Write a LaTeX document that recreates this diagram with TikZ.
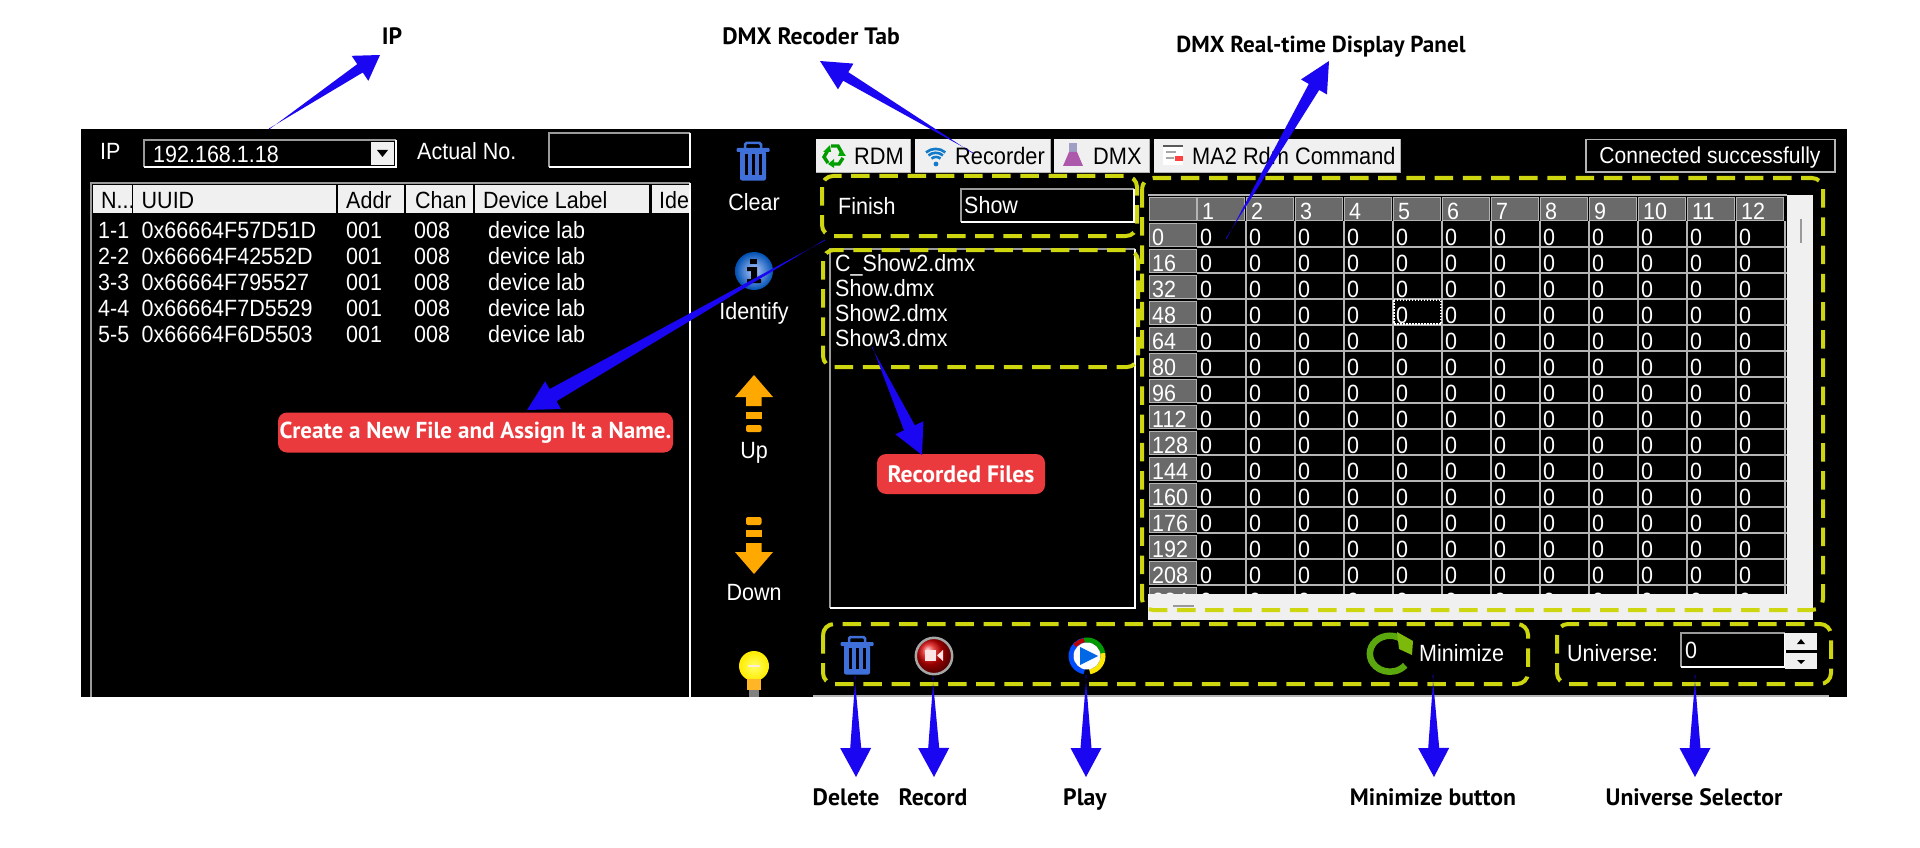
\documentclass[tikz,border=0pt]{standalone}
\usepackage{fontspec}
\setmainfont{Liberation Sans}[FakeStretch=0.915]
\newfontfamily\labfont{PT Sans}
\usetikzlibrary{calc,arrows.meta}
\definecolor{ablue}{HTML}{1A06F0}
\definecolor{ylw}{HTML}{CDD60F}
\definecolor{redlab}{HTML}{EA3A3E}
\definecolor{tabbg}{HTML}{F0F0F0}
\definecolor{orng}{HTML}{FFA800}
\definecolor{trashb}{HTML}{3F6FD8}
\definecolor{cellg}{HTML}{6A6A6A}
\definecolor{gridl}{HTML}{B4B4B4}
\definecolor{edgeg}{HTML}{9A9A9A}
\definecolor{swoosh}{HTML}{5BA80E}
\newcommand{\UI}{\fontsize{23.5}{26}\selectfont}
\newcommand{\TB}{\fontsize{23.8}{26}\selectfont}
\newcommand{\LB}{\labfont\bfseries\fontsize{23.7}{26}\selectfont}
\newcommand{\LBs}{\labfont\bfseries\fontsize{23.1}{26}\selectfont}
% wedge: tail, tip, tail half width, neck half width, head length, head half width
\newcommand{\WedgeArrow}[6]{%
  \coordinate (wh) at ($(#2)!#5!(#1)$);
  \fill[ablue] ($(#1)!#3!90:(#2)$) -- ($(wh)!#4!-90:(#2)$) -- ($(wh)!#6!-90:(#2)$) -- (#2)
     -- ($(wh)!#6!90:(#2)$) -- ($(wh)!#4!90:(#2)$) -- ($(#1)!#3!-90:(#2)$) -- cycle;}
\newcommand{\TrashIcon}[2]{%
  \begin{scope}[shift={(#1,#2)}]
    \draw[trashb,line width=2.5pt,rounded corners=1.5pt] (-8,6) -- (-8,1) -- (8,1) -- (8,6);
    \fill[trashb,rounded corners=1pt] (-16.5,6) rectangle (16.5,10);
    \fill[trashb,rounded corners=2pt] (-13,9) rectangle (13,38.5);
    \foreach \sx in {-8.5,-1.5,5.5} \fill[black] (\sx,12) rectangle ++(3,21);
  \end{scope}}
\newcommand{\Sunken}[4]{%
  \draw[edgeg,line width=1.6pt] (#1,#4) -- (#1,#2) -- (#3,#2);
  \draw[white,line width=1.6pt] (#3,#2) -- (#3,#4) -- (#1,#4);}
\tikzset{
  ui/.style={font=\UI,text=white,anchor=base west,inner sep=0pt},
  uic/.style={font=\UI,text=white,anchor=base,inner sep=0pt},
  hdr/.style={font=\UI,text=black,anchor=base west,inner sep=0pt},
  tabtext/.style={font=\TB,text=black,anchor=base west,inner sep=0pt},
  yellowbox/.style={draw=ylw,line width=4pt,rounded corners=11pt,dash pattern=on 18.5pt off 9.7pt},
  cellbox/.style={fill=cellg,draw=gridl,line width=1.4pt},
  lab/.style={font=\LB,text=black,anchor=base,inner sep=0pt},
  redbox/.style={fill=redlab,rounded corners=9pt,inner sep=0pt,font=\LB,text=white}
}
\begin{document}
\begin{tikzpicture}[x=1pt,y=-1pt]
\useasboundingbox (0,0) rectangle (1920,848);
\fill[white] (0,0) rectangle (1920,848);
% main panel
\fill[black] (81,129) rectangle (1847,697);
\draw[gridl,line width=1.4pt] (813,696) -- (1829,696);
% top-left row
\node[ui] (iplab) at (100,160) {IP};
\Sunken{144}{140}{396}{167}
\node[ui] (ipval) at (153,163) {192.168.1.18};
\fill[tabbg] (371,142) rectangle (394,165);
\fill[black] (377,150) -- (388,150) -- (382.5,157) -- cycle;
\node[ui] (actual) at (417,160) {Actual No.};
\Sunken{549}{133}{690}{167}
% device table
\draw[edgeg,line width=1.6pt] (91,697) -- (91,183) -- (690,183);
\draw[white,line width=1.6pt] (690,183) -- (690,697);
\foreach \xa/\xb in {92.5/131.5,133/336,338/404,406/472.5,474.5/649,652/689}
  \fill[tabbg] (\xa,185) rectangle (\xb,213);
\node[hdr] (h1) at (101,208) {N...};
\node[hdr] (h2) at (141.5,208) {UUID};
\node[hdr] (h3) at (346,208) {Addr};
\node[hdr] (h4) at (415,208) {Chan};
\node[hdr] (h5) at (483,208) {Device Label};
\node[hdr] (h6) at (659,208) {Ide};
\foreach \n/\u/\yy in {1-1/0x66664F57D51D/238,2-2/0x66664F42552D/264,3-3/0x66664F795527/290,4-4/0x66664F7D5529/316,5-5/0x66664F6D5503/342}{
  \node[ui] (no\yy) at (98,\yy) {\n};
  \node[ui] (uu\yy) at (141.5,\yy) {\u};
  \node[ui] (ad\yy) at (346,\yy) {001};
  \node[ui] (ch\yy) at (414,\yy) {008};
  \node[ui] (dl\yy) at (488,\yy) {device lab};
}
% middle column
\TrashIcon{753}{142}
\node[uic] (clear) at (754,210) {Clear};
\shade[inner color=white!10!cyan!30!blue!30,outer color=blue!55!cyan!70!black] (754,271) circle (19);
\fill[black] (750,259) rectangle (757,264);
\fill[black] (747,267) -- (757,267) -- (757,279) -- (761,279) -- (761,283) -- (747,283) -- (747,279) -- (751,279) -- (751,271) -- (747,271) -- cycle;
\node[uic] (identify) at (754,319) {Identify};
% up arrow
\fill[orng] (754,375) -- (773,397) -- (761.5,397) -- (761.5,406) -- (746,406) -- (746,397) -- (735,397) -- cycle;
\fill[orng] (746,412) rectangle (761.5,419);
\fill[orng,rounded corners=2pt] (746,425) rectangle (761.5,432);
\node[uic] (up) at (754,458) {Up};
% down arrow
\fill[orng,rounded corners=2pt] (746,517) rectangle (761.5,525);
\fill[orng] (746,530) rectangle (761.5,537);
\fill[orng] (754,574) -- (773,552) -- (761.5,552) -- (761.5,543) -- (746,543) -- (746,552) -- (735,552) -- cycle;
\node[uic] (down) at (754,600) {Down};
% bulb
\begin{scope}
  \clip (730,645) rectangle (780,696);
  \shade[inner color=yellow!60!white,outer color=yellow!85!orange] (754,666) circle (15);
  \fill[white!85!orange] (748,664.5) rectangle (760,667);
  \fill[orng!85!white] (747,679) rectangle (761,690);
  \fill[gray] (749,690) rectangle (759,697);
\end{scope}
% tabs
\fill[tabbg] (816,139) rectangle (910,173);
\fill[tabbg] (915,139) rectangle (1050,173);
\fill[tabbg] (1054,139) rectangle (1149,173);
\fill[tabbg] (1154,139) rectangle (1400,173);
\draw[gridl,line width=1pt] (816,173) -- (910,173) -- (910,139);
\draw[gridl,line width=1pt] (915,173) -- (1050,173) -- (1050,139);
\draw[gridl,line width=1pt] (1054,173) -- (1149,173) -- (1149,139);
\draw[gridl,line width=1pt] (1154,173) -- (1400,173) -- (1400,139);
% recycle icon
\begin{scope}[shift={(834,155)}]
  \draw[green!60!black,line width=3.4pt] (-3,-9) -- (4,-9) -- (8,-2);
  \draw[green!60!black,line width=3.4pt] (9,3) -- (5,9) -- (-3,9);
  \draw[green!60!black,line width=3.4pt] (-6,8) -- (-10,2) -- (-6,-5);
  \fill[green!65!black] (7,-6) -- (12,1) -- (4,1) -- cycle;
  \fill[green!65!black] (0,4) -- (0,13) -- (-6,9) -- cycle;
  \fill[green!65!black] (-11,-3) -- (-3,-3) -- (-4,-10) -- cycle;
\end{scope}
\node[tabtext] (tab1) at (854,164.5) {RDM};
% wifi icon
\begin{scope}[shift={(936,164)},cyan!60!blue,line width=2.6pt]
  \fill (0,0) circle (2.4);
  \draw (-4.5,-5.4) arc[start angle=-130,end angle=-50,radius=7];
  \draw (-7.5,-8.6) arc[start angle=-130,end angle=-50,radius=11.2];
  \draw (-10,-11.6) arc[start angle=-130,end angle=-50,radius=15];
\end{scope}
\node[tabtext] (tab2) at (955,164.5) {Recorder};
% flask icon
\fill[blue!25!gray!60] (1069,143) rectangle (1077,152);
\fill[violet!65!white] (1063,166) -- (1069,152) -- (1077,152) -- (1083,166) -- cycle;
\node[tabtext] (tab3) at (1093,164.5) {DMX};
% MA2 icon
\fill[white] (1163,145) rectangle (1183,165);
\fill[black!65] (1163,145) rectangle (1183,147.5);
\fill[gray!70] (1166,151) rectangle (1176,153);
\fill[gray!70] (1166,157) rectangle (1174,159);
\fill[red!75!white] (1175,156) rectangle (1183,161);
\node[tabtext] (tab4) at (1192,164.5) {MA2 Rdm Command};
% status
\draw[gridl,line width=1.4pt] (1586,139.5) rectangle (1835,172);
\node[uic,font=\fontsize{23}{26}\selectfont] (status) at (1710,164) {Connected successfully};
% recorder area
\node[ui] (finish) at (838,214) {Finish};
\Sunken{961}{189}{1134}{222}
\node[ui] (showv) at (964,213) {Show};
\Sunken{830}{249}{1135}{608}
\node[ui] (f1) at (835,271) {C\_Show2.dmx};
\node[ui] (f2) at (835,296) {Show.dmx};
\node[ui] (f3) at (835,321) {Show2.dmx};
\node[ui] (f4) at (835,346) {Show3.dmx};
% grid
\fill[black] (1148,195) rectangle (1787,594);
\draw[gridl,line width=1.4pt] (1148,195) -- (1787,195);
\node[cellbox,minimum width=47pt,minimum height=23pt,inner sep=0pt,anchor=north west] (corner) at (1149,197) {};
\foreach \c in {1,...,12}{
  \pgfmathsetmacro{\cx}{1197+49*(\c-1)}
  \node[cellbox,minimum width=47pt,minimum height=23pt,inner sep=0pt,anchor=north west] (hc\c) at (\cx,197) {};
  \node[ui] (ht\c) at ({\cx+5},219) {\c};
}
\begin{scope}
  \clip (1148,195) rectangle (1787,594);
  \foreach \c in {0,...,11}{
    \pgfmathsetmacro{\cx}{1246+49*\c}
    \draw[gridl,line width=1.4pt] (\cx,221) -- (\cx,594);
  }
  \foreach \r [count=\ri from 0] in {0,16,...,224}{
    \pgfmathsetmacro{\ry}{223+26*\ri}
    \pgfmathsetmacro{\rb}{245+26*\ri}
    \pgfmathsetmacro{\rl}{247+26*\ri}
    \draw[gridl,line width=1.4pt] (1197,\rl) -- (1787,\rl);
    \node[cellbox,minimum width=47pt,minimum height=23pt,inner sep=0pt,anchor=north west] (rc\ri) at (1149,\ry) {};
    \node[ui] (rt\ri) at (1152,\rb) {\r};
    \foreach \c in {1,...,12}{
      \pgfmathsetmacro{\cx}{1200+49*(\c-1)}
      \node[ui] (v\ri-\c) at (\cx,\rb) {0};
    }
  }
\end{scope}
\draw[white,line width=1.2pt,dash pattern=on 1.5pt off 1.5pt] (1394,300) rectangle (1441,324);
% scrollbars
\fill[tabbg] (1787,195) rectangle (1813,620);
\fill[tabbg] (1148,594) rectangle (1813,620);
\fill[gray!80] (1799.5,219) rectangle (1802,243);
\fill[gray!80] (1173,605) rectangle (1194,607);
% bottom row
\TrashIcon{857}{636}
\shade[ball color=red!85!black] (934,656) circle (17);
\draw[gray!70!white,line width=2.5pt] (934,656) circle (18.2);
\fill[white!90!red] (925,650) rectangle (936,661);
\fill[white!90!red] (937,655.5) -- (943,650) -- (943,661) -- cycle;
% play icon
\begin{scope}
  \draw[blue!70!cyan,line width=5pt] (1087,656) ++(100:16) arc[start angle=100,end angle=260,radius=16];
  \draw[green!60!black,line width=5pt] (1087,656) ++(-100:16) arc[start angle=-100,end angle=-10,radius=16];
  \draw[yellow!90!orange,line width=5pt] (1087,656) ++(-10:16) arc[start angle=-10,end angle=80,radius=16];
  \draw[red!75!black,line width=4pt] (1087,656) ++(-100:16) arc[start angle=-100,end angle=-140,radius=16];
  \fill[white] (1087,656) circle (13.5);
  \fill[blue!55!cyan!90!black] (1080,647) -- (1098,656) -- (1080,665) -- cycle;
\end{scope}
% minimize icon
\draw[swoosh,line width=6.5pt] (1404,641) arc[start angle=-45,end angle=-320,x radius=20,y radius=18];
\fill[swoosh!80!yellow] (1397,632) -- (1413,641) -- (1412,655) -- (1399,649) -- cycle;
\node[ui] (minim) at (1419,661) {Minimize};
\node[ui] (univ) at (1567,661) {Universe:};
\Sunken{1681}{633}{1785}{667}
\node[ui] (uval) at (1685,658) {0};
\fill[tabbg] (1785,633) rectangle (1817,650);
\fill[tabbg] (1785,653) rectangle (1817,669);
\fill[black] (1801,639) -- (1797,644) -- (1805,644) -- cycle;
\fill[black] (1801,664) -- (1797,660) -- (1805,660) -- cycle;
% yellow dashed boxes
\draw[yellowbox] (822,176) rectangle (1137,236);
\draw[yellowbox] (823,250) rectangle (1138,367);
\draw[yellowbox] (1142,178) rectangle (1823,610);
\draw[yellowbox] (823,624) rectangle (1528,684);
\draw[yellowbox] (1557,624) rectangle (1831,684);
% labels
\node[lab] (lIP) at (392,45) {IP};
\node[lab] (lTab) at (811,45) {DMX Recoder Tab};
\node[lab,font=\LBs] (lPanel) at (1321,53) {DMX Real-time Display Panel};
\node[lab] (lDel) at (846,805) {Delete};
\node[lab] (lRec) at (933,805) {Record};
\node[lab] (lPlay) at (1085,805) {Play};
\node[lab] (lMin) at (1433,805) {Minimize button};
\node[lab] (lUni) at (1694,805) {Universe Selector};
\node[redbox,font=\LBs,minimum width=395pt,minimum height=40pt] (lNew) at (475.5,432.5) {Create a New File and Assign It a Name.};
\node[redbox,minimum width=168pt,minimum height=40pt] (lFiles) at (961,474) {Recorded Files};
% connector ends
\coordinate (tIP) at (269,129);
\coordinate (pIP) at (380,55);
\coordinate (tTab) at (973,153);
\coordinate (pTab) at (820,61);
\coordinate (tPanel) at (1226,239);
\coordinate (pPanel) at (1329,61);
\coordinate (tNew) at (825,240);
\coordinate (pNew) at (527,410);
\coordinate (tFiles) at (872,347);
\coordinate (pFiles) at (922,455);
\coordinate (tDel) at (855,676);
\coordinate (pDel) at (856,777);
\coordinate (tRec) at (933,677);
\coordinate (pRec) at (934,777);
\coordinate (tPlay) at (1086,675);
\coordinate (pPlay) at (1086,777);
\coordinate (tMin) at (1433,675);
\coordinate (pMin) at (1434,777);
\coordinate (tUni) at (1695,675);
\coordinate (pUni) at (1695,777);
% connectors
\WedgeArrow{tIP}{pIP}{0.4pt}{5pt}{24pt}{15pt}
\WedgeArrow{tTab}{pTab}{0.4pt}{5pt}{30pt}{15pt}
\WedgeArrow{tPanel}{pPanel}{0.4pt}{6pt}{30pt}{15pt}
\WedgeArrow{tNew}{pNew}{0.4pt}{7pt}{30pt}{16pt}
\WedgeArrow{tFiles}{pFiles}{0.4pt}{6pt}{30pt}{15.5pt}
\WedgeArrow{tDel}{pDel}{0.5pt}{5.5pt}{29pt}{15.5pt}
\WedgeArrow{tRec}{pRec}{0.5pt}{5.5pt}{29pt}{15.5pt}
\WedgeArrow{tPlay}{pPlay}{0.5pt}{5.5pt}{29pt}{15.5pt}
\WedgeArrow{tMin}{pMin}{0.5pt}{5.5pt}{29pt}{15.5pt}
\WedgeArrow{tUni}{pUni}{0.5pt}{5.5pt}{29pt}{15.5pt}
\end{tikzpicture}
\end{document}
